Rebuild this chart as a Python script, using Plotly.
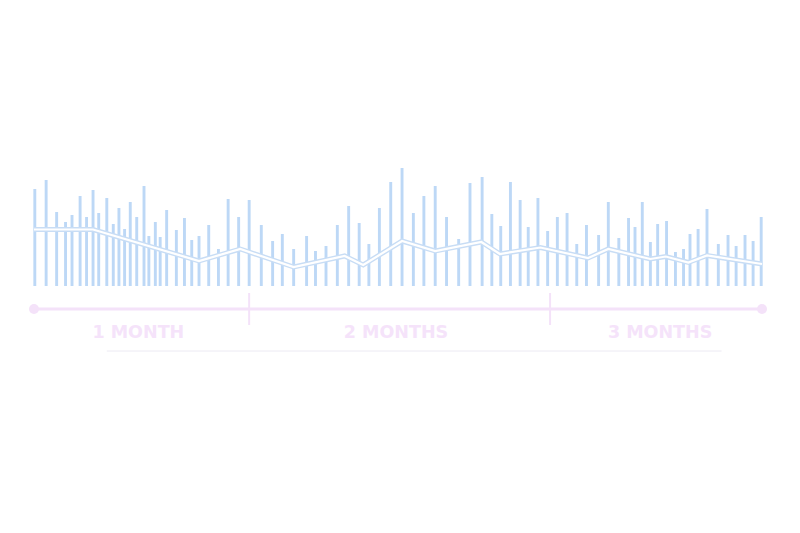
import plotly.graph_objects as go

# bar positions (days) and heights
bar_days = [
    0.1, 1.5, 2.8, 3.9, 4.7, 5.7, 6.5, 7.3, 8.0, 9.0,
    9.8, 10.5, 11.2, 11.9, 12.7, 13.6, 14.2, 15.0, 15.6, 16.4,
    17.6, 18.6, 19.5, 20.4, 21.6, 22.8, 24.0, 25.3, 26.6, 28.1,
    29.5, 30.7, 32.1, 33.7, 34.8, 36.1, 37.5, 38.9, 40.2, 41.4,
    42.7, 44.1, 45.5, 46.9, 48.2, 49.6, 51.0, 52.5, 53.9, 55.4,
    56.6, 57.7, 58.9, 60.1, 61.1, 62.3, 63.5, 64.7, 65.9, 67.1,
    68.3, 69.8, 71.0, 72.3, 73.5, 74.3, 75.2, 76.2, 77.1, 78.2,
    79.3, 80.3, 81.1, 82.1, 83.2, 84.6, 85.8, 86.8, 87.9, 88.9,
    89.9,
]
bar_values = [
    97, 106, 74, 64, 71, 90, 69, 96, 73, 88,
    62, 78, 57, 84, 69, 100, 50, 64, 49, 76,
    56, 68, 46, 50, 61, 37, 87, 69, 86, 61,
    45, 52, 37, 50, 35, 40, 61, 80, 63, 42,
    78, 104, 118, 73, 90, 100, 69, 47, 103, 109,
    72, 60, 104, 86, 59, 88, 55, 69, 73, 42,
    61, 51, 84, 48, 68, 59, 84, 44, 62, 65,
    34, 37, 52, 57, 77, 42, 51, 40, 51, 45,
    69,
]

# trend line
trend_days = [0, 7.3, 20.4, 25.5, 32.1, 38.4, 40.7, 45.5, 49.6, 55.3,
              57.6, 62.6, 68.5, 71.0, 76.2, 78.1, 80.9, 83.2, 90]
trend_values = [56.5, 56.5, 25, 37, 19, 30, 21, 45, 35, 44,
                32, 38.5, 28, 37, 27, 29.5, 23.5, 30.5, 22]

# timeline
period_bounds = [0, 26.6, 63.8, 90]
period_labels = ["1 MONTH", "2 MONTHS", "3 MONTHS"]
label_days = [12.9, 44.75, 77.4]

px_per_day = 728 / 90
bar_color = "#bdd8f6"
pink = "#f4e2f9"

fig = go.Figure()

fig.add_trace(go.Bar(
    x=bar_days, y=bar_values, width=0.36,
    marker=dict(color=bar_color, line=dict(width=0)),
))

fig.add_trace(go.Scatter(
    x=trend_days, y=trend_values, mode="lines",
    line=dict(color="#c8ddf5", width=5),
))
fig.add_trace(go.Scatter(
    x=trend_days, y=trend_values, mode="lines",
    line=dict(color="white", width=2.2),
))

# timeline line and end dots
tl_y = -23
fig.add_trace(go.Scatter(
    x=[period_bounds[0], period_bounds[-1]], y=[tl_y, tl_y],
    mode="lines+markers",
    line=dict(color=pink, width=3),
    marker=dict(color=pink, size=10),
))
for b in period_bounds[1:-1]:
    fig.add_trace(go.Scatter(
        x=[b, b], y=[tl_y + 16, tl_y - 16], mode="lines",
        line=dict(color=pink, width=2),
    ))

fig.add_trace(go.Scatter(
    x=label_days, y=[-47.5] * 3, mode="text", text=period_labels,
    textfont=dict(family="DejaVu Sans", size=17.5, color="#f5e3fa",
                  weight="bold"),
))

fig.add_trace(go.Scatter(
    x=[9.0, 85.0], y=[-65, -65], mode="lines",
    line=dict(color="#eceaf3", width=1),
))

# body margin of the page is 8px, so the plot starts at page pixel 8
fig.update_layout(
    width=800, height=533,
    margin=dict(l=0, r=0, t=0, b=0),
    paper_bgcolor="white", plot_bgcolor="white",
    showlegend=False,
    xaxis=dict(range=[-26 / px_per_day, 774 / px_per_day], visible=False),
    yaxis=dict(range=[-255, 278], visible=False),
)

fig.write_html("out.html")
